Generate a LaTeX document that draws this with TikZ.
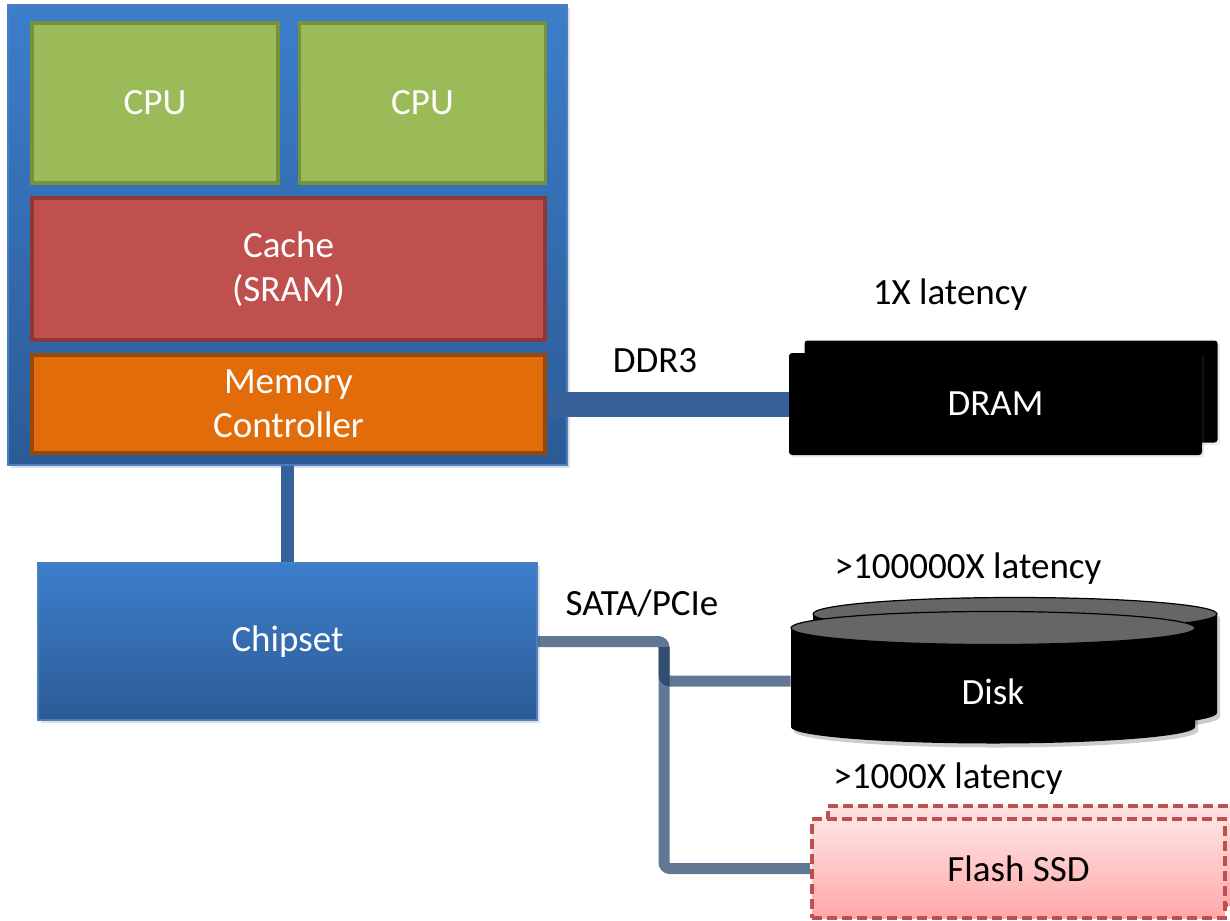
\documentclass[tikz,border=0pt]{standalone}
\usepackage{fontspec}
\setmainfont{Carlito}
\usepackage{xcolor}
\usetikzlibrary{shapes,arrows,positioning,calc,shadows}

\definecolor{chiptop}{HTML}{3C7ECB}
\definecolor{chipbot}{HTML}{2C5B96}
\definecolor{chipedge}{HTML}{4A80C0}
\definecolor{cpufill}{HTML}{9BBB59}
\definecolor{cpuedge}{HTML}{76923C}
\definecolor{cachefill}{HTML}{C0504D}
\definecolor{cacheedge}{HTML}{8C3836}
\definecolor{mcfill}{HTML}{E36C0A}
\definecolor{mcedge}{HTML}{984807}
\definecolor{busblue}{HTML}{36619A}
\definecolor{satablue}{HTML}{1F3D64}
\definecolor{diskgray}{HTML}{666666}
\definecolor{flashtop}{HTML}{FFE2E2}
\definecolor{flashbot}{HTML}{FFA8A8}
\definecolor{flashedge}{HTML}{C0504D}

\begin{document}
\begin{tikzpicture}[
    x=0.5pt, y=-0.5pt,
    every node/.style={font=\fontsize{18.5}{22}\selectfont, align=center},
    chip/.style={rectangle, draw=chipedge, line width=0.8pt, top color=chiptop, bottom color=chipbot, text=white,
        drop shadow={shadow xshift=1.5pt, shadow yshift=-1.5pt, opacity=0.25}},
    cpu/.style={rectangle, draw=cpuedge, fill=cpufill, line width=1.75pt, minimum width=123pt, minimum height=80pt, text=white},
    cache/.style={rectangle, draw=cacheedge, fill=cachefill, line width=1.75pt, minimum width=256.5pt, minimum height=71pt, text=white},
    ctrl/.style={rectangle, draw=mcedge, fill=mcfill, line width=1.75pt, minimum width=256.5pt, minimum height=49pt, text=white},
    dram/.style={rectangle, rounded corners=1.5pt, fill=black, minimum width=206.5pt, minimum height=51pt, text=white,
        drop shadow={shadow xshift=1.2pt, shadow yshift=-1.2pt, opacity=0.15}},
    flash/.style={rectangle, top color=flashtop, bottom color=flashbot, draw=flashedge, line width=2pt,
        dash pattern=on 5pt off 2.5pt, minimum width=206.5pt, minimum height=49.5pt, text=black},
    bus/.style={draw=busblue, line width=12.5pt},
    sata/.style={draw=satablue, line width=5.5pt, opacity=0.7, rounded corners=3pt}
]
    \clip (0,0) rectangle (1230,920);

    % Processor
    \node[chip, minimum width=279.5pt, minimum height=230pt] (chip) at (287.5,235) {};
    \node[cpu] (cpu1) at (155,103) {CPU};
    \node[cpu] (cpu2) at (422.5,103) {CPU};
    \node[cache] (cache) at (288.5,269) {Cache\\(SRAM)};
    \node[ctrl] (ctrl) at (288.5,404) {Memory\\Controller};

    % Chipset
    \node[chip, minimum width=249.5pt, minimum height=78.5pt] (chipset) at (287.5,641.5) {Chipset};

    % DRAM
    \node[dram] (drampage) at (1011,391.5) {};
    \node[dram] (dram) at (995.5,404) {DRAM};

    % Disk
    \fill[black, opacity=0.2] (816,618) -- (816,717) arc[start angle=180, end angle=360, x radius=101pt, y radius=8.25pt]
        -- (1220,618) arc[start angle=0, end angle=180, x radius=101pt, y radius=8.25pt] -- cycle;
    \fill[black] (813,614) -- (813,713) arc[start angle=180, end angle=360, x radius=101pt, y radius=8.25pt]
        -- (1217,614) arc[start angle=0, end angle=180, x radius=101pt, y radius=8.25pt] -- cycle;
    \draw[fill=diskgray, line width=0.6pt] (1015,614) ellipse [x radius=101pt, y radius=8.25pt];
    \fill[black, opacity=0.2] (794,632) -- (794,731) arc[start angle=180, end angle=360, x radius=101pt, y radius=8.25pt]
        -- (1198,632) arc[start angle=0, end angle=180, x radius=101pt, y radius=8.25pt] -- cycle;
    \fill[black] (791,628) -- (791,727) arc[start angle=180, end angle=360, x radius=101pt, y radius=8.25pt]
        -- (1195,628) arc[start angle=0, end angle=180, x radius=101pt, y radius=8.25pt] -- cycle;
    \draw[fill=diskgray, line width=0.6pt] (993,628) ellipse [x radius=101pt, y radius=8.25pt];
    \node[text=white, minimum width=202pt, minimum height=40pt] (disk) at (993,692) {Disk};

    % Flash SSD
    \node[flash] (flashpage) at (1034.5,855.5) {};
    \node[flash] (flash) at (1018.5,868.5) {Flash SSD};

    % Labels
    \node (ddrlabel) at (655,361) {DDR3};
    \node (satalabel) at (642,603) {SATA/PCIe};
    \node (dramlat) at (950,295) {1X latency};
    \node (disklat) at (968,569) {>100000X latency};
    \node (flashlat) at (948,779) {>1000X latency};

    % Buses
    \draw[bus] (ctrl.east) -- (dram.west);
    \draw[bus, line width=6.5pt] (chip.south) -- (chipset.north);
    \coordinate (split) at (664,647);
    \draw[sata] (chipset.east) -| (split |- flash.west) -- (flash.west);
    \draw[sata] (split) |- ($(disk.west)+(0,-11)$);
\end{tikzpicture}
\end{document}
